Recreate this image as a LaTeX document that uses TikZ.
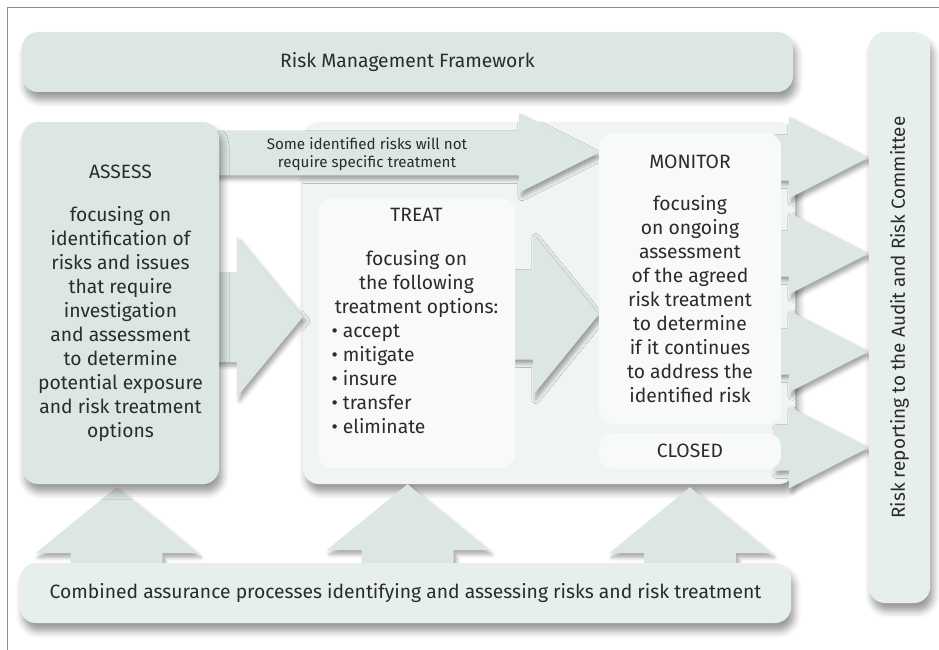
\documentclass[tikz,border=0pt]{standalone}
\usepackage{fontspec}
\setmainfont{Fira Sans}
\usetikzlibrary{calc,shadows.blur}
\definecolor{ink}{HTML}{2B2B2B}
\definecolor{sage}{HTML}{DCE7E1}
\definecolor{sagelight}{HTML}{E7EFEB}
\definecolor{mist}{HTML}{F0F5F2}
\definecolor{paper}{HTML}{F7FAF8}
\definecolor{frame}{HTML}{8C8C8C}
\pgfdeclarelayer{arrows}
\pgfsetlayers{arrows,main}
% fat arrow to the right: start, tip, half shaft, half head, head length
\newcommand{\rarrow}[5]{%
  \path[bigarrow] let \p1=#1, \p2=#2 in
    (\x1,\y2+#3) -- (\x2-#5,\y2+#3) -- (\x2-#5,\y2+#4) -- (\x2,\y2)
    -- (\x2-#5,\y2-#4) -- (\x2-#5,\y2-#3) -- (\x1,\y2-#3) -- cycle;}
% fat arrow pointing up: start, tip, half shaft, half head, head length
\newcommand{\uarrow}[5]{%
  \path[bigarrow] let \p1=#1, \p2=#2 in
    (\x2-#3,\y1) -- (\x2-#3,\y2-#5) -- (\x2-#4,\y2-#5) -- (\x2,\y2)
    -- (\x2+#4,\y2-#5) -- (\x2+#3,\y2-#5) -- (\x2+#3,\y1) -- cycle;}
\begin{document}
\begin{tikzpicture}[x=1pt,y=-1pt,text=ink,font=\fontsize{19.3}{24}\selectfont]
\tikzstyle{box} = [rectangle, rounded corners=16pt, fill=sage, inner sep=0pt, align=center,
  blur shadow={shadow xshift=3pt, shadow yshift=-8pt, shadow blur radius=7pt, shadow opacity=40}]
\tikzstyle{panel} = [rectangle, rounded corners=14pt, fill=paper, inner sep=0pt, align=center]
\tikzstyle{bigarrow} = [fill=sage,
  blur shadow={shadow xshift=3pt, shadow yshift=-4pt, shadow blur radius=4pt, shadow opacity=35}]
%
\useasboundingbox (0,0) rectangle (939,650);
\draw[frame, line width=1pt] (7,650) -- (7,8) -- (939,8);
%
\node[box, minimum width=771pt, minimum height=60pt] (rmf) at (407.5,62) {Risk Management Framework};
\node[box, fill=sagelight, minimum width=61pt, minimum height=571pt,
  label={[rotate=90,font=\fontsize{18.9}{24}\selectfont]center:Risk reporting to the Audit and Risk Committee}] (report) at (899.5,317.5) {};
\node[box, minimum width=197pt, minimum height=362pt] (assess) at (120.5,303)
  {ASSESS\\[19pt]focusing on\\identification of\\risks and issues\\that require\\investigation\\and assessment\\to determine\\potential exposure\\and risk treatment\\options};
%
\node[panel, minimum width=197pt, minimum height=270pt] (treat) at (416.5,333)
  {TREAT\\[20pt]focusing on\\the following\\treatment options:\\
   \makebox[170pt][l]{\textbullet\ accept}\\\makebox[170pt][l]{\textbullet\ mitigate}\\
   \makebox[170pt][l]{\textbullet\ insure}\\\makebox[170pt][l]{\textbullet\ transfer}\\
   \makebox[170pt][l]{\textbullet\ eliminate}\\\mbox{}};
\node[panel, minimum width=182pt, minimum height=291pt] (monitor) at (690,278.5)
  {MONITOR\\[18pt]focusing\\on ongoing\\assessment\\of the agreed\\risk treatment\\to determine\\if it continues\\to address the\\identified risk};
\node[panel, minimum width=182pt, minimum height=36pt] (closed) at (690,451) {CLOSED};
\node[box, fill=sagelight, minimum width=771pt, minimum height=60pt] (combined) at (405.5,593)
  {Combined assurance processes identifying and assessing risks and risk treatment};
%
\begin{pgfonlayer}{arrows}
\node[box, fill=mist, minimum width=492pt, minimum height=362pt] (container) at (549,303) {};
\rarrow{([xshift=-10pt]assess.east)}{([yshift=-14pt]container.west)}{45pt}{80pt}{66pt}
\rarrow{([xshift=-10pt]assess.east)}{([yshift=-20pt]monitor.north west)}{22.5pt}{40pt}{80pt}
\rarrow{([xshift=-10pt]treat.east)}{([yshift=-36pt]monitor.west)}{45pt}{81pt}{66pt}
\foreach \dy in {160,64,-34,-130}
  \rarrow{([xshift=-8pt]monitor.east)}{([yshift=\dy pt]report.west)}{23pt}{41pt}{80pt};
\uarrow{([yshift=-6pt]combined.north)}{([xshift=-4pt,yshift=-3pt]assess.south)}{46pt}{81pt}{66pt}
\uarrow{([yshift=-6pt]combined.north)}{([xshift=-9pt]treat.south |- container.south)}{46pt}{81pt}{66pt}
\uarrow{([yshift=-6pt]combined.north)}{([yshift=-3pt]monitor.south |- container.south)}{46pt}{81pt}{66pt}
\end{pgfonlayer}
\node[font=\fontsize{15.2}{18}\selectfont, align=center] (skip) at (367,154)
  {Some identified risks will not\\require specific treatment};
\end{tikzpicture}
\end{document}
